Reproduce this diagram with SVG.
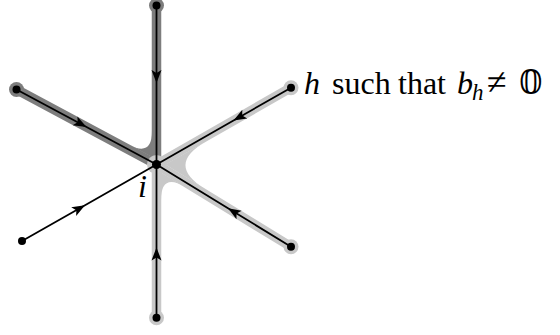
<svg xmlns="http://www.w3.org/2000/svg" width="560" height="335" viewBox="0 0 560 335">
<style>
.dark{fill:#7d7d7d;stroke:none}
.darkb{stroke:#7d7d7d;stroke-width:9.5;stroke-linecap:round;fill:none}
.light{fill:#c8c8c8;stroke:none}
.lightb{stroke:#c8c8c8;stroke-width:9.5;stroke-linecap:round;fill:none}
.edge{stroke:#000;stroke-width:1.8;fill:none;marker-mid:url(#arr)}
.dot{fill:#000}
.lbl{font-family:"Liberation Serif","DejaVu Serif",serif;font-size:32px;fill:#000}
.it{font-style:italic}
</style>
<defs>
<marker id="arr" markerUnits="userSpaceOnUse" markerWidth="16" markerHeight="12" viewBox="-14 -6 16 12" refX="0" refY="0" orient="auto" overflow="visible">
<path d="M0,0 L-13,-5 L-10,0 L-13,5 Z" fill="#000"/>
</marker>
</defs>
<g id="shading">
<g id="dark-region">
<line class="darkb" x1="156.5" y1="164.5" x2="156.5" y2="5.5"/>
<circle class="dark" cx="156.5" cy="5.5" r="7.5"/>
<line class="darkb" x1="156.5" y1="164.5" x2="16.5" y2="89.5"/>
<circle class="dark" cx="16.5" cy="89.5" r="7.5"/>
<path class="dark" d="M152,157 L152,131 Q152,157 129,144.7 Z"/>
</g>
<g id="light-region">
<line class="lightb" x1="156.5" y1="164.5" x2="291" y2="87.7"/>
<circle class="light" cx="291" cy="87.7" r="7.5"/>
<line class="lightb" x1="156.5" y1="164.5" x2="291" y2="246.7"/>
<circle class="light" cx="291" cy="246.7" r="7.5"/>
<line class="lightb" x1="156.5" y1="164.5" x2="156.5" y2="317.7"/>
<circle class="light" cx="156.5" cy="317.7" r="7.5"/>
<path class="light" d="M165.3,164.6 L206,141.4 Q165.3,164.6 205.3,189 Z"/>
<path class="light" d="M161,172.5 L161,200.5 Q161,172.5 185,187.1 Z"/>
<circle class="light" cx="156.5" cy="164.5" r="9.5"/>
</g>
</g>
<g id="connectors">
<path class="edge" d="M156.5,5.5 L156.5,83 L156.5,164.5"/>
<path class="edge" d="M16.5,89.5 L86.5,127 L156.5,164.5"/>
<path class="edge" d="M291,87.7 L233.5,120.5 L156.5,164.5"/>
<path class="edge" d="M22,241 L85,205.2 L156.5,164.5"/>
<path class="edge" d="M291,246.7 L228,208.2 L156.5,164.5"/>
<path class="edge" d="M156.5,317.7 L156.5,247.5 L156.5,164.5"/>
</g>
<g id="node-center"><circle class="dot" cx="156.5" cy="164.5" r="4.5"/><text class="lbl it" x="138" y="197" font-size="33">i</text></g>
<g id="node-top"><circle class="dot" cx="156.5" cy="5.5" r="4"/></g>
<g id="node-upper-left"><circle class="dot" cx="16.5" cy="89.5" r="4"/></g>
<g id="node-upper-right"><circle class="dot" cx="291" cy="87.7" r="4"/></g>
<g id="node-lower-left"><circle class="dot" cx="22" cy="241" r="4"/></g>
<g id="node-lower-right"><circle class="dot" cx="291" cy="246.7" r="4"/></g>
<g id="node-bottom"><circle class="dot" cx="156.5" cy="317.7" r="4"/></g>
<g id="label">
<text class="lbl" y="94"><tspan class="it" x="304">h</tspan><tspan x="332">such</tspan><tspan x="398">that</tspan><tspan class="it" x="457">b</tspan><tspan class="it" x="472" y="100" font-size="23">h</tspan><tspan x="487" y="94" font-size="36">≠</tspan><tspan x="519" font-family="DejaVu Serif, DejaVu Sans, serif" font-size="34">𝟘</tspan></text>
</g>
</svg>
